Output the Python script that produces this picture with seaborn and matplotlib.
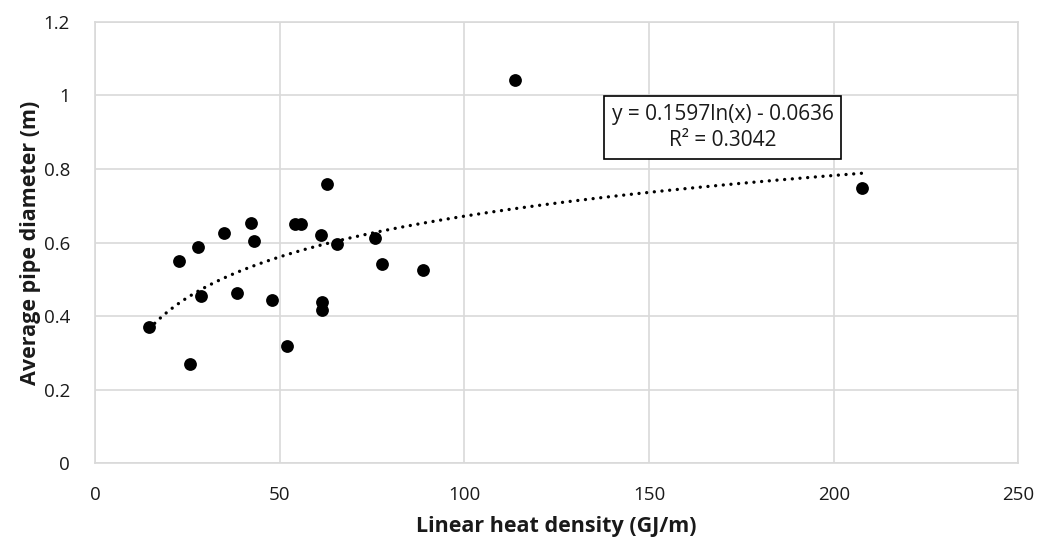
import numpy as np
import pandas as pd
import matplotlib
matplotlib.use("Agg")
import matplotlib.pyplot as plt
import seaborn as sns

# linear heat density (GJ/m) vs average pipe diameter (m)
heat_density = [14.7, 22.7, 25.7, 27.9, 28.8, 34.9, 38.4, 42.1, 43.1, 48.0,
                52.1, 54.1, 55.7, 61.2, 61.4, 61.4, 62.9, 65.4, 75.7, 77.7,
                88.8, 113.7, 207.7]
pipe_diameter = [0.370, 0.549, 0.269, 0.588, 0.455, 0.627, 0.464, 0.653, 0.604, 0.443,
                 0.318, 0.650, 0.650, 0.620, 0.438, 0.418, 0.759, 0.595, 0.612, 0.542,
                 0.525, 1.042, 0.749]

# logarithmic trendline coefficients as printed on the chart
trend_a = 0.1597
trend_b = -0.0636
trend_r2 = 0.3042

df = pd.DataFrame({'x': heat_density, 'y': pipe_diameter})

sns.set_style("white")
plt.rcParams['font.family'] = ['Open Sans', 'DejaVu Sans']

fig = plt.figure(figsize=(10.41, 5.47), dpi=100)
ax = fig.add_axes([0.0913, 0.153, 0.887, 0.807])

grid_color = '#d9d9d9'
text_color = '#1a1a1a'

ax.grid(True, color=grid_color, linewidth=1.2)
ax.set_axisbelow(True)
for side in ax.spines.values():
    side.set_color(grid_color)
    side.set_linewidth(1.2)

# trendline from first to last point
xt = np.linspace(min(heat_density), max(heat_density), 300)
trend = pd.DataFrame({'x': xt, 'y': trend_a * np.log(xt) + trend_b})
sns.lineplot(data=trend, x='x', y='y', ax=ax, color='black', linewidth=2.4,
             linestyle=(0, (0.01, 2.3)), dash_capstyle='round', zorder=2)

sns.scatterplot(data=df, x='x', y='y', ax=ax, color='black', s=85,
                edgecolor='black', linewidth=0, zorder=3)

ax.set_xlim(0, 250)
ax.set_ylim(0, 1.2)
ax.set_xticks([0, 50, 100, 150, 200, 250])
ax.set_yticks([0, 0.2, 0.4, 0.6, 0.8, 1.0, 1.2])
ax.set_yticklabels(['0', '0.2', '0.4', '0.6', '0.8', '1', '1.2'])
ax.tick_params(axis='both', length=0, labelsize=13.5, colors=text_color)
ax.tick_params(axis='x', pad=16)
ax.tick_params(axis='y', pad=18)

ax.set_xlabel('Linear heat density (GJ/m)', fontsize=15.5, fontweight='bold',
              color=text_color, labelpad=9)
ax.set_ylabel('Average pipe diameter (m)', fontsize=15.5, fontweight='bold',
              color=text_color, labelpad=2)

eq = f"y = {trend_a}ln(x) - {abs(trend_b)}\nR² = {trend_r2}"
ax.text(170.0, 0.913, eq, ha='center', va='center', fontsize=15, color=text_color,
        linespacing=1.35,
        bbox=dict(boxstyle='square,pad=0.36', facecolor='white', edgecolor='black', linewidth=1.2))

fig.savefig('out.png', dpi=100)
